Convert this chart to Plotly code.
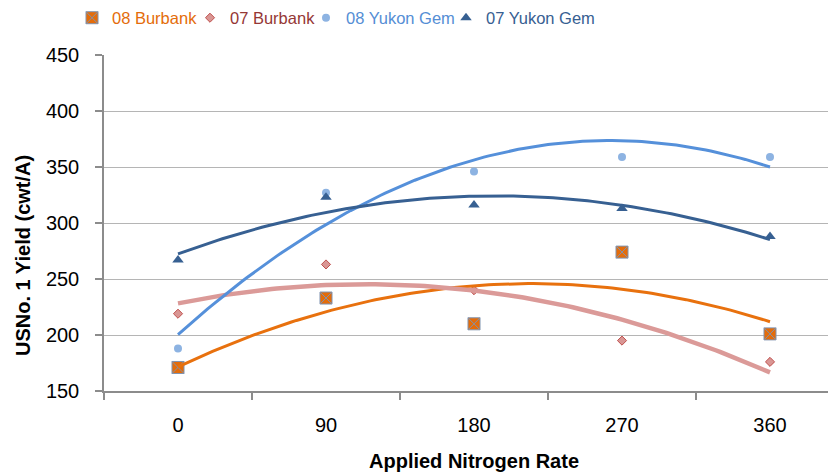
import numpy as np
import plotly.graph_objects as go

nitrogen = [0, 90, 180, 270, 360]
tick_labels = ["0", "90", "180", "270", "360"]
burbank_08 = [171, 233, 210, 274, 201]
burbank_07 = [219, 263, 240, 195, 176]
yukon_08 = [188, 327, 346, 359, 359]
yukon_07 = [267, 323, 316, 313, 288]

# page body has an 8px default margin, so the figure is sized to fill the rest
OFF = 8
W, H = 836 - OFF, 474 - OFF
L, T = 104 - OFF, 55 - OFF
B = H - T - 336
plot_w = W - L
FONT = "Liberation Sans, Arial, sans-serif"

series = [
    dict(name="08 Burbank", y=burbank_08, txt="#E46C0A", line="#E8710E", lw=3, leg="legend", lx=64,
         marker=dict(symbol="square-x", size=12, color="#E46C0A", line=dict(color="#7F93B0", width=1))),
    dict(name="07 Burbank", y=burbank_07, txt="#953735", line="#DB9A98", lw=4.5, leg="legend2", lx=182,
         marker=dict(symbol="diamond", size=7, color="#D99694", line=dict(color="#C0504D", width=1))),
    dict(name="08 Yukon Gem", y=yukon_08, txt="#558ED5", line="#5590DA", lw=3, leg="legend3", lx=298,
         marker=dict(symbol="circle", size=8, color="#8DB3E2", line=dict(width=0))),
    dict(name="07 Yukon Gem", y=yukon_07, txt="#376092", line="#376092", lw=3, leg="legend4", lx=438,
         marker=dict(symbol="triangle-up", size=10, color="#376092", line=dict(width=0))),
]

fig = go.Figure()
for s in series:
    fig.add_trace(go.Scatter(
        x=nitrogen, y=s["y"], mode="markers", marker=s["marker"], legend=s["leg"],
        name=f"<span style='color:{s['txt']}'>{s['name']}</span>",
    ))

# second-order polynomial trendlines fitted to each series
xs = np.linspace(0, 360, 121)
for s in series:
    coef = np.polyfit(nitrogen, s["y"], 2)
    fig.add_trace(go.Scatter(
        x=xs, y=np.polyval(coef, xs), mode="lines",
        line=dict(color=s["line"], width=s["lw"]), showlegend=False, hoverinfo="skip",
    ))

x_right = -45 + (836 - 104) * 90 / 148

legends = {}
for s in series:
    legends[s["leg"]] = dict(
        orientation="h", xref="container", yref="container",
        x=s["lx"] / W, y=1 - (18 - OFF) / H, xanchor="left", yanchor="middle",
        font=dict(family=FONT, size=16.5), itemsizing="trace", bgcolor="rgba(0,0,0,0)",
    )

fig.update_layout(
    width=W, height=H,
    margin=dict(l=L, r=0, t=T, b=B, autoexpand=False),
    paper_bgcolor="white", plot_bgcolor="white",
    font=dict(family=FONT, size=20, color="#000000"),
    showlegend=True,
    **legends,
    xaxis=dict(
        range=[-45, x_right], tickmode="array", tickvals=nitrogen, ticktext=tick_labels,
        ticks="outside", ticklen=15, tickcolor="rgba(0,0,0,0)", automargin=False,
        showline=True, linecolor="#8C8C8C", linewidth=1.5, showgrid=False, zeroline=False,
        minor=dict(tickmode="array", tickvals=[-45, 45, 135, 225, 315], ticks="outside",
                   ticklen=7, tickcolor="#8C8C8C", tickwidth=1.5, showgrid=False),
        tickfont=dict(size=20, color="#000000"),
    ),
    yaxis=dict(
        range=[150, 450], tickmode="array", tickvals=[150, 200, 250, 300, 350, 400, 450],
        ticks="outside", ticklen=7, tickcolor="#8C8C8C", tickwidth=1.5,
        ticklabelstandoff=12, automargin=False,
        showline=True, linecolor="#8C8C8C", linewidth=1.5,
        showgrid=True, gridcolor="#B5B5B5", gridwidth=1, zeroline=False,
        tickfont=dict(size=20, color="#000000"),
    ),
    annotations=[
        dict(text="<b>Applied Nitrogen Rate</b>", xref="paper", yref="paper",
             x=(474 - 104) / plot_w, y=(391 - 461) / 336, xanchor="center", yanchor="middle",
             showarrow=False, font=dict(family=FONT, size=20, color="#000000")),
        dict(text="<b>USNo. 1 Yield (cwt/A)</b>", xref="paper", yref="paper",
             x=(23 - 104) / plot_w, y=(391 - 256) / 336, xanchor="center", yanchor="middle",
             textangle=-90, showarrow=False, font=dict(family=FONT, size=20, color="#000000")),
    ],
)

fig.write_html("out.html")
